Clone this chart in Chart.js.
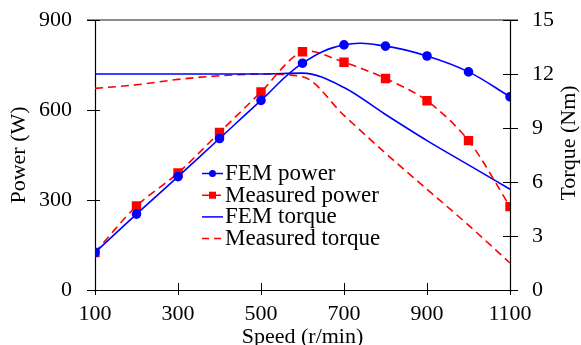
<!DOCTYPE html>
<html><head><meta charset="utf-8">
<script src="https://cdn.jsdelivr.net/npm/chart.js@4/dist/chart.umd.min.js"></script>
<style>html,body{margin:0;padding:0;background:#fff;}#wrap{width:581px;height:345px;}</style>
</head><body><div id="wrap"><canvas id="c" width="581" height="345"></canvas></div>
<script>
const speeds = [100, 200, 300, 400, 500, 600, 700, 800, 900, 1000, 1100];
const femPower = [125, 253, 378, 505, 632, 756, 817, 813, 780, 727, 644];
const measuredPower = [125, 280, 390, 525, 660, 794, 759, 705, 631, 498, 278];
const femTorque = [12.0, 12.0, 12.0, 12.0, 12.0, 12.05, 11.25, 9.75, 8.3, 6.95, 5.6];
const measuredTorque = [11.2, 11.4, 11.7, 11.9, 12.0, 11.85, 9.7, 7.6, 5.6, 3.6, 1.5];
const speedTicks = [100, 300, 500, 700, 900, 1100];
const powerTicks = [0, 300, 600, 900];
const torqueTicks = [0, 3, 6, 9, 12, 15];
const seriesLabels = ['FEM power', 'Measured power', 'FEM torque', 'Measured torque'];

const FONT = '"Liberation Serif", "Times New Roman", serif';
const BLUE = '#0000ff', RED = '#ff0000';
const pts = arr => speeds.map((s, i) => ({x: s, y: arr[i]}));

const framePlugin = {
  id: 'frame',
  beforeDatasetsDraw(chart) {
    const {ctx, chartArea: {left, right, top, bottom}, scales: {x, y, y1}} = chart;
    ctx.save();
    ctx.lineCap = 'butt';
    ctx.strokeStyle = '#8c8c8c'; ctx.lineWidth = 2;
    ctx.beginPath(); ctx.moveTo(left - 8, top); ctx.lineTo(right + 8, top); ctx.stroke();
    ctx.strokeStyle = '#000'; ctx.lineWidth = 1.2;
    ctx.beginPath(); ctx.moveTo(left - 8, bottom + 0.5); ctx.lineTo(right + 8, bottom + 0.5); ctx.stroke();
    ctx.beginPath(); ctx.moveTo(left + 0.5, top); ctx.lineTo(left + 0.5, bottom + 2); ctx.stroke();
    ctx.beginPath(); ctx.moveTo(right + 0.5, top); ctx.lineTo(right + 0.5, bottom + 2); ctx.stroke();
    ctx.lineWidth = 1;
    powerTicks.forEach(v => {
      const py = Math.round(y.getPixelForValue(v)) + 0.5;
      ctx.beginPath(); ctx.moveTo(left - 8, py); ctx.lineTo(left + 5, py); ctx.stroke();
    });
    torqueTicks.forEach(v => {
      const py = Math.round(y1.getPixelForValue(v)) + 0.5;
      ctx.beginPath(); ctx.moveTo(right - 7, py); ctx.lineTo(right + 8, py); ctx.stroke();
    });
    speedTicks.forEach(v => {
      const px = Math.round(x.getPixelForValue(v)) + 0.5;
      ctx.beginPath(); ctx.moveTo(px, bottom - 7); ctx.lineTo(px, bottom + 5); ctx.stroke();
    });
    ctx.restore();
  },
  afterDraw(chart) {
    const {ctx} = chart;
    ctx.save();
    ctx.fillStyle = '#000';
    ctx.font = '22px ' + FONT;
    ctx.translate(569, 143);
    ctx.rotate(-Math.PI / 2);
    ctx.textAlign = 'center'; ctx.textBaseline = 'middle';
    ctx.fillText('Torque (Nm)', 0, 0);
    ctx.restore();
    ctx.save();
    const x0 = 202, x1 = 223, tx = 225, y0 = 173.5, dy = 21.7;
    chart.data.datasets.forEach((ds, i) => {
      const ry = y0 + i * dy;
      ctx.strokeStyle = ds.borderColor; ctx.lineWidth = 1.5;
      ctx.setLineDash(ds.borderDash ? [7, 5] : []);
      ctx.beginPath(); ctx.moveTo(x0, ry); ctx.lineTo(x1, ry); ctx.stroke();
      ctx.setLineDash([]);
      const cx = (x0 + x1) / 2;
      ctx.fillStyle = ds.borderColor;
      if (ds.pointStyle === 'circle' && ds.pointRadius > 0) {
        ctx.beginPath(); ctx.arc(cx, ry, 3.5, 0, Math.PI * 2); ctx.fill();
      } else if (ds.pointStyle === 'rect' && ds.pointRadius > 0) {
        ctx.fillRect(cx - 3.5, ry - 3.5, 7, 7);
      }
      ctx.fillStyle = '#000';
      ctx.font = '23px ' + FONT;
      ctx.textAlign = 'left'; ctx.textBaseline = 'middle';
      ctx.fillText(ds.label, tx, ry + 0.5);
    });
    ctx.restore();
  }
};

const plainTick = v => String(v);
const noPadV = s => { s.paddingTop = 0; s.paddingBottom = 0; };

new Chart(document.getElementById('c'), {
  type: 'line',
  data: {
    datasets: [
      {label: seriesLabels[0], data: pts(femPower), yAxisID: 'y', borderColor: BLUE, backgroundColor: BLUE,
       borderWidth: 1.6, pointStyle: 'circle', pointRadius: 4, tension: 0.4},
      {label: seriesLabels[1], data: pts(measuredPower), yAxisID: 'y', borderColor: RED, backgroundColor: RED,
       borderWidth: 1.6, borderDash: [8, 5], pointStyle: 'rect', pointRadius: 5.5, tension: 0.3},
      {label: seriesLabels[2], data: pts(femTorque), yAxisID: 'y1', borderColor: BLUE, backgroundColor: BLUE,
       borderWidth: 1.6, pointStyle: false, pointRadius: 0, cubicInterpolationMode: 'monotone'},
      {label: seriesLabels[3], data: pts(measuredTorque), yAxisID: 'y1', borderColor: RED, backgroundColor: RED,
       borderWidth: 1.6, borderDash: [8, 5], pointStyle: false, pointRadius: 0, cubicInterpolationMode: 'monotone'}
    ]
  },
  options: {
    responsive: false,
    animation: false,
    devicePixelRatio: 1,
    layout: {padding: {top: 20, left: 0, right: 0, bottom: 0}},
    plugins: {legend: {display: false}, tooltip: {enabled: false}},
    scales: {
      x: {
        type: 'linear', position: 'bottom', min: 100, max: 1100,
        afterBuildTicks: s => { s.ticks = speedTicks.map(v => ({value: v})); },
        afterFit: s => { s.height = 55; s.paddingLeft = 0; s.paddingRight = 0; },
        grid: {display: false, drawTicks: false},
        border: {display: false},
        ticks: {color: '#000', font: {family: FONT, size: 22}, padding: 11, maxRotation: 0, autoSkip: false, callback: plainTick},
        title: {display: true, text: 'Speed (r/min)', color: '#000', font: {family: FONT, size: 22, lineHeight: 1}, padding: {top: 0, bottom: -3}}
      },
      y: {
        type: 'linear', position: 'left', min: 0, max: 900,
        afterBuildTicks: s => { s.ticks = powerTicks.map(v => ({value: v})); },
        afterFit: s => { s.width = 95; noPadV(s); },
        grid: {display: false, drawTicks: false},
        border: {display: false},
        ticks: {color: '#000', font: {family: FONT, size: 22}, padding: 23, callback: plainTick},
        title: {display: true, text: 'Power (W)', color: '#000', font: {family: FONT, size: 22, lineHeight: 1}, padding: {top: 8.5, bottom: 0}}
      },
      y1: {
        type: 'linear', position: 'right', min: 0, max: 15,
        afterBuildTicks: s => { s.ticks = torqueTicks.map(v => ({value: v})); },
        afterFit: s => { s.width = 71; noPadV(s); },
        grid: {display: false, drawTicks: false},
        border: {display: false},
        ticks: {color: '#000', font: {family: FONT, size: 22}, padding: 22, callback: plainTick}
      }
    }
  },
  plugins: [framePlugin]
});
</script>
</body></html>
